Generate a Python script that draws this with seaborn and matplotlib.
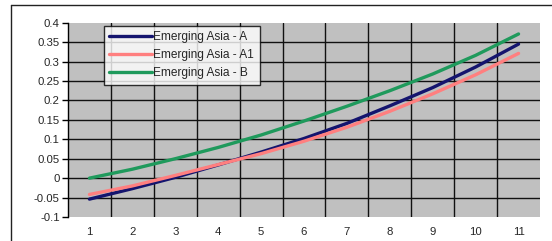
import matplotlib
matplotlib.use("Agg")
import matplotlib.pyplot as plt
import seaborn as sns
import pandas as pd
from matplotlib.lines import Line2D

periods = [1, 2, 3, 4, 5, 6, 7, 8, 9, 10, 11]
series_a = [-0.054, -0.027, 0.002, 0.034, 0.067, 0.102, 0.141, 0.186, 0.233, 0.286, 0.345]
series_a1 = [-0.042, -0.020, 0.007, 0.035, 0.063, 0.095, 0.131, 0.172, 0.217, 0.266, 0.321]
series_b = [0.000, 0.023, 0.050, 0.079, 0.111, 0.147, 0.185, 0.225, 0.268, 0.316, 0.371]
names = ["Emerging Asia - A", "Emerging Asia - A1", "Emerging Asia - B"]
colors = ["#14146e", "#ff7f7f", "#1f9a5c"]
y_ticks = [-0.1, -0.05, 0, 0.05, 0.1, 0.15, 0.2, 0.25, 0.3, 0.35, 0.4]
y_labels = ["-0.1", "-0.05", "0", "0.05", "0.1", "0.15", "0.2", "0.25", "0.3", "0.35", "0.4"]

df = pd.DataFrame({
    "period": periods * 3,
    "value": series_a + series_a1 + series_b,
    "series": [names[0]] * 11 + [names[1]] * 11 + [names[2]] * 11,
})

sns.set_style("white")
plt.rcParams["font.family"] = ["Liberation Sans", "DejaVu Sans"]

fig = plt.figure(figsize=(5.52, 2.41), dpi=100)
ax = fig.add_axes([68 / 552, 1 - 217 / 241, 472 / 552, 194.3 / 241])
ax.set_facecolor("#c0c0c0")

sns.lineplot(data=df, x="period", y="value", hue="series", palette=colors,
             hue_order=names, linewidth=2.4, ax=ax, legend=False, zorder=3)

ax.set_xlim(0.5, 11.5)
ax.set_ylim(-0.1, 0.4)
ax.set_xticks(periods)
ax.set_xticklabels([str(p) for p in periods])
ax.set_yticks(y_ticks)
ax.set_yticklabels(y_labels)
ax.set_xlabel("")
ax.set_ylabel("")

for yv in y_ticks[1:-1]:
    ax.axhline(yv, color="#111111", linewidth=1.0, zorder=1)
for xv in [p + 0.5 for p in periods[:-1]]:
    ax.axvline(xv, color="#111111", linewidth=1.0, zorder=1)

for s in ["top", "right", "bottom"]:
    ax.spines[s].set_visible(False)
ax.spines["left"].set_color("black")
ax.spines["left"].set_linewidth(1.0)
ax.tick_params(axis="y", which="both", left=True, length=4, width=1, color="black",
               labelsize=8.2, pad=2)
ax.tick_params(axis="x", which="both", bottom=False, labelsize=8.2, pad=4)

handles = [Line2D([0], [0], color=c, linewidth=2.4) for c in colors]
leg = ax.legend(handles, names, loc="upper left", bbox_to_anchor=(0.076, 0.983),
                borderaxespad=0, frameon=True, fancybox=False, fontsize=8.6,
                handlelength=3.6, handletextpad=0.1, labelspacing=0.5,
                borderpad=0.45)
leg.get_frame().set_edgecolor("black")
leg.get_frame().set_linewidth(1.0)
leg.get_frame().set_facecolor("white")
leg.set_zorder(5)

# outer chart frame
fig.add_artist(Line2D([11 / 552, 552 / 552], [1 - 5 / 241, 1 - 5 / 241],
                      transform=fig.transFigure, color="#222222", linewidth=1.0))
fig.add_artist(Line2D([11 / 552, 11 / 552], [0, 1 - 5 / 241],
                      transform=fig.transFigure, color="#222222", linewidth=1.0))

fig.savefig("out.png", dpi=100)
